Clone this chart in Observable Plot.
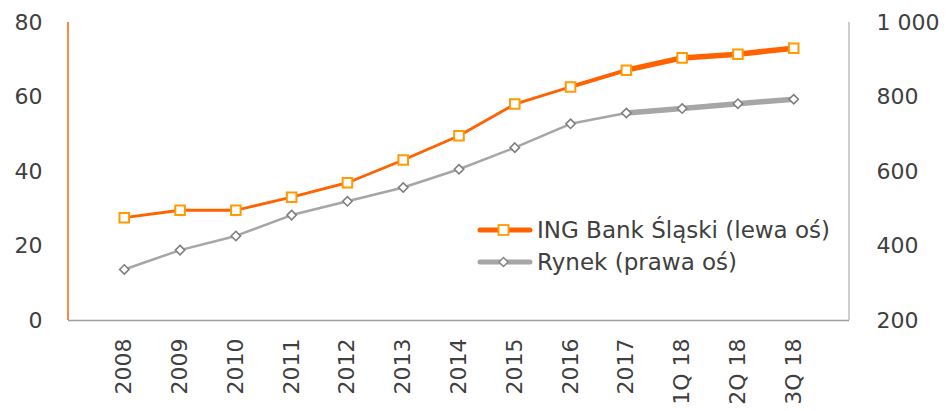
<!DOCTYPE html>
<html><head><meta charset="utf-8">
<script src="https://cdn.jsdelivr.net/npm/d3@7"></script>
<script src="https://cdn.jsdelivr.net/npm/@observablehq/plot@0.6"></script>
<style>
body{margin:0;background:#fff;}
#wrap{position:relative;width:947px;height:411px;overflow:hidden;}
#legend{position:absolute;left:477px;top:214px;font-family:"DejaVu Sans",sans-serif;font-size:23px;color:#404040;}
#legend .row{display:flex;align-items:center;height:32px;white-space:nowrap;}
#legend svg{margin-right:4px;}
</style></head><body><div id="wrap"><div id="legend"></div></div>
<script>
const categories = ["2008","2009","2010","2011","2012","2013","2014","2015","2016","2017","1Q 18","2Q 18","3Q 18"];
const ingValues = [27.6,29.6,29.6,33.1,37.0,43.1,49.6,58.1,62.7,67.2,70.5,71.5,73.1];
const rynekValues = [337,389,427,483,520,557,606,664,728,757,769,782,794];
const leftTicks = [0,20,40,60,80];
const rightTicks = [200,400,600,800,1000];
const seriesNames = ["ING Bank Śląski (lewa oś)","Rynek (prawa oś)"];
const thickFrom = "2017";

const W = 947, H = 411, mL = 68, mR = 98, mT = 22, mB = 91;
const ORANGE = "#FF6200", ORANGE_M = "#FF9A00", GREY = "#A6A6A6", GREY_M = "#7F7F7F";
const toLeft = v => (v - 200) / 10;
const fmt = v => d3.format(",")(v).replace(/,/g, " ");

const ing = categories.map((c, i) => ({c, v: ingValues[i]}));
const ryn = categories.map((c, i) => ({c, v: toLeft(rynekValues[i])}));
const k = categories.indexOf(thickFrom);

const chart = Plot.plot({
  width: W, height: H,
  marginLeft: mL, marginRight: mR, marginTop: mT, marginBottom: mB,
  x: {type: "point", domain: categories, padding: 1, round: false, label: null},
  y: {domain: [0, 80], label: null},
  style: {fontFamily: "DejaVu Sans", fontSize: "22px", color: "#404040", background: "white", overflow: "visible"},
  marks: [
    Plot.axisY({anchor: "left", ticks: leftTicks, tickSize: 0, tickPadding: 26, label: null, fontSize: 22}),
    Plot.axisY({anchor: "right", ticks: rightTicks.map(toLeft), tickFormat: d => fmt(d * 10 + 200), tickSize: 0, tickPadding: 27, label: null, fontSize: 22, textAnchor: "start"}),
    Plot.axisX({tickRotate: -90, tickSize: 0, tickPadding: 18, label: null, fontSize: 22}),
    Plot.ruleY([0], {stroke: "#A0A0A0", strokeWidth: 1.5}),
    Plot.line(ryn, {x: "c", y: "v", stroke: GREY, strokeWidth: 2.5}),
    Plot.line(ryn.slice(k), {x: "c", y: "v", stroke: GREY, strokeWidth: 5.5}),
    Plot.dot(ryn, {x: "c", y: "v", symbol: "diamond2", r: 4.2, fill: "white", stroke: GREY_M, strokeWidth: 1.6}),
    Plot.line(ing, {x: "c", y: "v", stroke: ORANGE, strokeWidth: 2.8}),
    Plot.line(ing.slice(k - 1, k + 1), {x: "c", y: "v", stroke: ORANGE, strokeWidth: 3.8}),
    Plot.line(ing.slice(k), {x: "c", y: "v", stroke: ORANGE, strokeWidth: 5.5}),
    Plot.dot(ing, {x: "c", y: "v", symbol: "square", r: 5.4, fill: "white", stroke: ORANGE_M, strokeWidth: 2})
  ]
});

// vertical axis lines on the frame edges
const svg = d3.select(chart);
const y = chart.scale("y");
svg.insert("line", ":first-child").attr("x1", W - mR).attr("x2", W - mR).attr("y1", y.apply(80)).attr("y2", y.apply(0)).attr("stroke", "#BFBFBF").attr("stroke-width", 1.5);
svg.insert("line", ":first-child").attr("x1", mL).attr("x2", mL).attr("y1", y.apply(80)).attr("y2", y.apply(0)).attr("stroke", ORANGE).attr("stroke-width", 1.5);

document.getElementById("wrap").prepend(chart);

// legend
const legend = d3.select("#legend");
const styles = [
  {stroke: ORANGE, ms: ORANGE_M, sym: "square"},
  {stroke: GREY, ms: GREY_M, sym: "diamond"}
];
seriesNames.forEach((name, i) => {
  const row = legend.append("div").attr("class", "row");
  const s = row.append("svg").attr("width", 56).attr("height", 20);
  s.append("line").attr("x1", 3).attr("x2", 53).attr("y1", 10).attr("y2", 10)
    .attr("stroke", styles[i].stroke).attr("stroke-width", 5).attr("stroke-linecap", "round");
  if (styles[i].sym === "square") {
    s.append("rect").attr("x", 21.5).attr("y", 5).attr("width", 10).attr("height", 10)
      .attr("fill", "white").attr("stroke", styles[i].ms).attr("stroke-width", 1.8);
  } else {
    s.append("path").attr("d", "M26.5,5.5L31,10L26.5,14.5L22,10Z")
      .attr("fill", "white").attr("stroke", styles[i].ms).attr("stroke-width", 1.4);
  }
  row.append("span").text(name);
});
</script>
</body></html>
